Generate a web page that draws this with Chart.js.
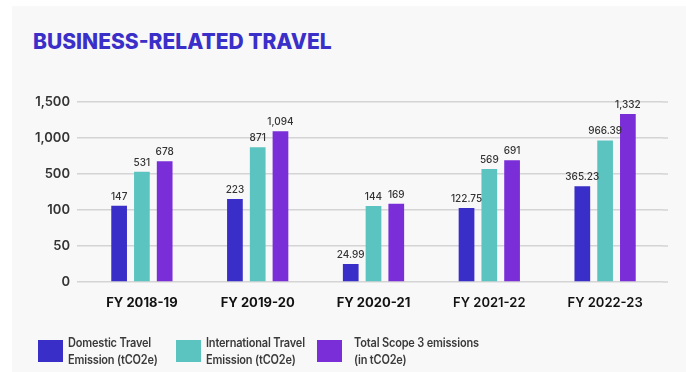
<!DOCTYPE html>
<html>
<head>
<meta charset="utf-8">
<script src="https://cdn.jsdelivr.net/npm/chart.js@4/dist/chart.umd.min.js"></script>
<style>
  html, body { margin: 0; padding: 0; background: #fff; }
  body { width: 686px; height: 372px; position: relative; overflow: hidden; font-family: Inter, "Open Sans", sans-serif; }
  .panel { position: absolute; left: 12px; top: 6px; right: 0; bottom: 0; background: #f8f8f8; }
  .title { position: absolute; left: 33px; top: 29px; font-size: 21px; font-weight: 800; color: #3a2fc8; }
  #chartWrap { position: absolute; left: 0; top: 0; width: 686px; height: 372px; }
  .legend { position: absolute; top: 334px; display: flex; align-items: flex-start; }
  .legend .box { width: 25px; height: 22px; margin-top: 6px; margin-right: 5px; }
  .legend .txt { font-size: 12.5px; line-height: 17px; color: #3a3a3a; font-weight: 600; letter-spacing: -0.2px;
                 white-space: nowrap; transform: scaleX(0.88); transform-origin: left top; }
</style>
</head>
<body>
<div class="panel"></div>
<div class="title">BUSINESS-RELATED TRAVEL</div>
<div id="chartWrap"><canvas id="travelChart" width="686" height="372"></canvas></div>
<div class="legend" style="left:38px"><div class="box" style="background:#3a2ec9"></div><div class="txt">Domestic Travel<br>Emission (tCO2e)</div></div>
<div class="legend" style="left:176px"><div class="box" style="background:#5bc4c0"></div><div class="txt">International Travel<br>Emission (tCO2e)</div></div>
<div class="legend" style="left:317px"><div class="box" style="background:#7a2ed8; margin-right:12px"></div><div class="txt">Total Scope 3 emissions<br>(in tCO2e)</div></div>
<script>
const years = ['FY 2018-19', 'FY 2019-20', 'FY 2020-21', 'FY 2021-22', 'FY 2022-23'];
const domestic = [147, 223, 24.99, 122.75, 365.23];
const international = [531, 871, 144, 569, 966.39];
const totalScope3 = [678, 1094, 169, 691, 1332];
// axis steps are evenly spaced even though the values are not
const yTicks = [0, 50, 100, 500, 1000, 1500];

const colors = ['#3a2ec9', '#5bc4c0', '#7a2ed8'];

class BreakScale extends Chart.LinearScale {
  buildTicks() {
    return yTicks.map(v => ({ value: v }));
  }
  getPixelForValue(value) {
    const n = yTicks.length - 1;
    let v = Math.max(yTicks[0], Math.min(yTicks[n], value));
    let i = 0;
    while (i < n - 1 && v > yTicks[i + 1]) i++;
    const frac = (v - yTicks[i]) / (yTicks[i + 1] - yTicks[i]);
    return this.getPixelForDecimal((i + frac) / n);
  }
  getValueForPixel(pixel) {
    const n = yTicks.length - 1;
    const d = this.getDecimalForPixel(pixel) * n;
    const i = Math.max(0, Math.min(n - 1, Math.floor(d)));
    return yTicks[i] + (d - i) * (yTicks[i + 1] - yTicks[i]);
  }
}
BreakScale.id = 'breaks';
BreakScale.defaults = Chart.LinearScale.defaults;
Chart.register(BreakScale);

const fmt = v => v.toLocaleString('en-US', { maximumFractionDigits: 2 });

const valueLabels = {
  id: 'valueLabels',
  afterDatasetsDraw(chart) {
    const ctx = chart.ctx;
    ctx.save();
    ctx.font = '500 10px Inter, sans-serif';
    ctx.fillStyle = '#333';
    ctx.textAlign = 'center';
    ctx.textBaseline = 'bottom';
    chart.data.datasets.forEach((ds, di) => {
      chart.getDatasetMeta(di).data.forEach((bar, i) => {
        ctx.fillText(fmt(ds.data[i]), bar.x, bar.y - 4);
      });
    });
    ctx.restore();
  }
};

// gridlines run a few px past the right edge of the plot
const gridTail = {
  id: 'gridTail',
  beforeDatasetsDraw(chart) {
    const { ctx, chartArea, scales } = chart;
    ctx.save();
    ctx.strokeStyle = '#d4d4d4';
    ctx.lineWidth = 1.5;
    scales.y.ticks.forEach(t => {
      const y = scales.y.getPixelForValue(t.value);
      ctx.beginPath();
      ctx.moveTo(chartArea.right, y);
      ctx.lineTo(chartArea.right + 5, y);
      ctx.stroke();
    });
    ctx.restore();
  }
};

new Chart(document.getElementById('travelChart'), {
  type: 'bar',
  data: {
    labels: years,
    datasets: [
      { label: 'Domestic Travel Emission (tCO2e)', data: domestic, backgroundColor: colors[0] },
      { label: 'International Travel Emission (tCO2e)', data: international, backgroundColor: colors[1] },
      { label: 'Total Scope 3 emissions (in tCO2e)', data: totalScope3, backgroundColor: colors[2] }
    ]
  },
  options: {
    responsive: false,
    animation: false,
    layout: { padding: { top: 102, right: 23, left: 0, bottom: 0 } },
    datasets: { bar: { categoryPercentage: 0.59, barPercentage: 0.69 } },
    plugins: { legend: { display: false }, tooltip: { enabled: false } },
    scales: {
      x: {
        grid: { display: false },
        border: { display: false },
        ticks: {
          color: '#111',
          padding: 5,
          font: c => ({ family: 'Inter, sans-serif', size: 13, weight: c.index < 3 ? '700' : '600' })
        },
        afterFit: s => { s.height = 90; }
      },
      y: {
        type: 'breaks',
        min: 0,
        max: 1500,
        grid: { color: '#d4d4d4', lineWidth: 1.5, drawTicks: true, tickLength: 7 },
        border: { display: false },
        ticks: {
          color: '#333',
          padding: 7,
          font: { family: 'Inter, sans-serif', size: 13, weight: '600' },
          callback: v => fmt(v)
        },
        afterFit: s => { s.width = 84; }
      }
    }
  },
  plugins: [valueLabels, gridTail]
});
</script>
</body>
</html>
